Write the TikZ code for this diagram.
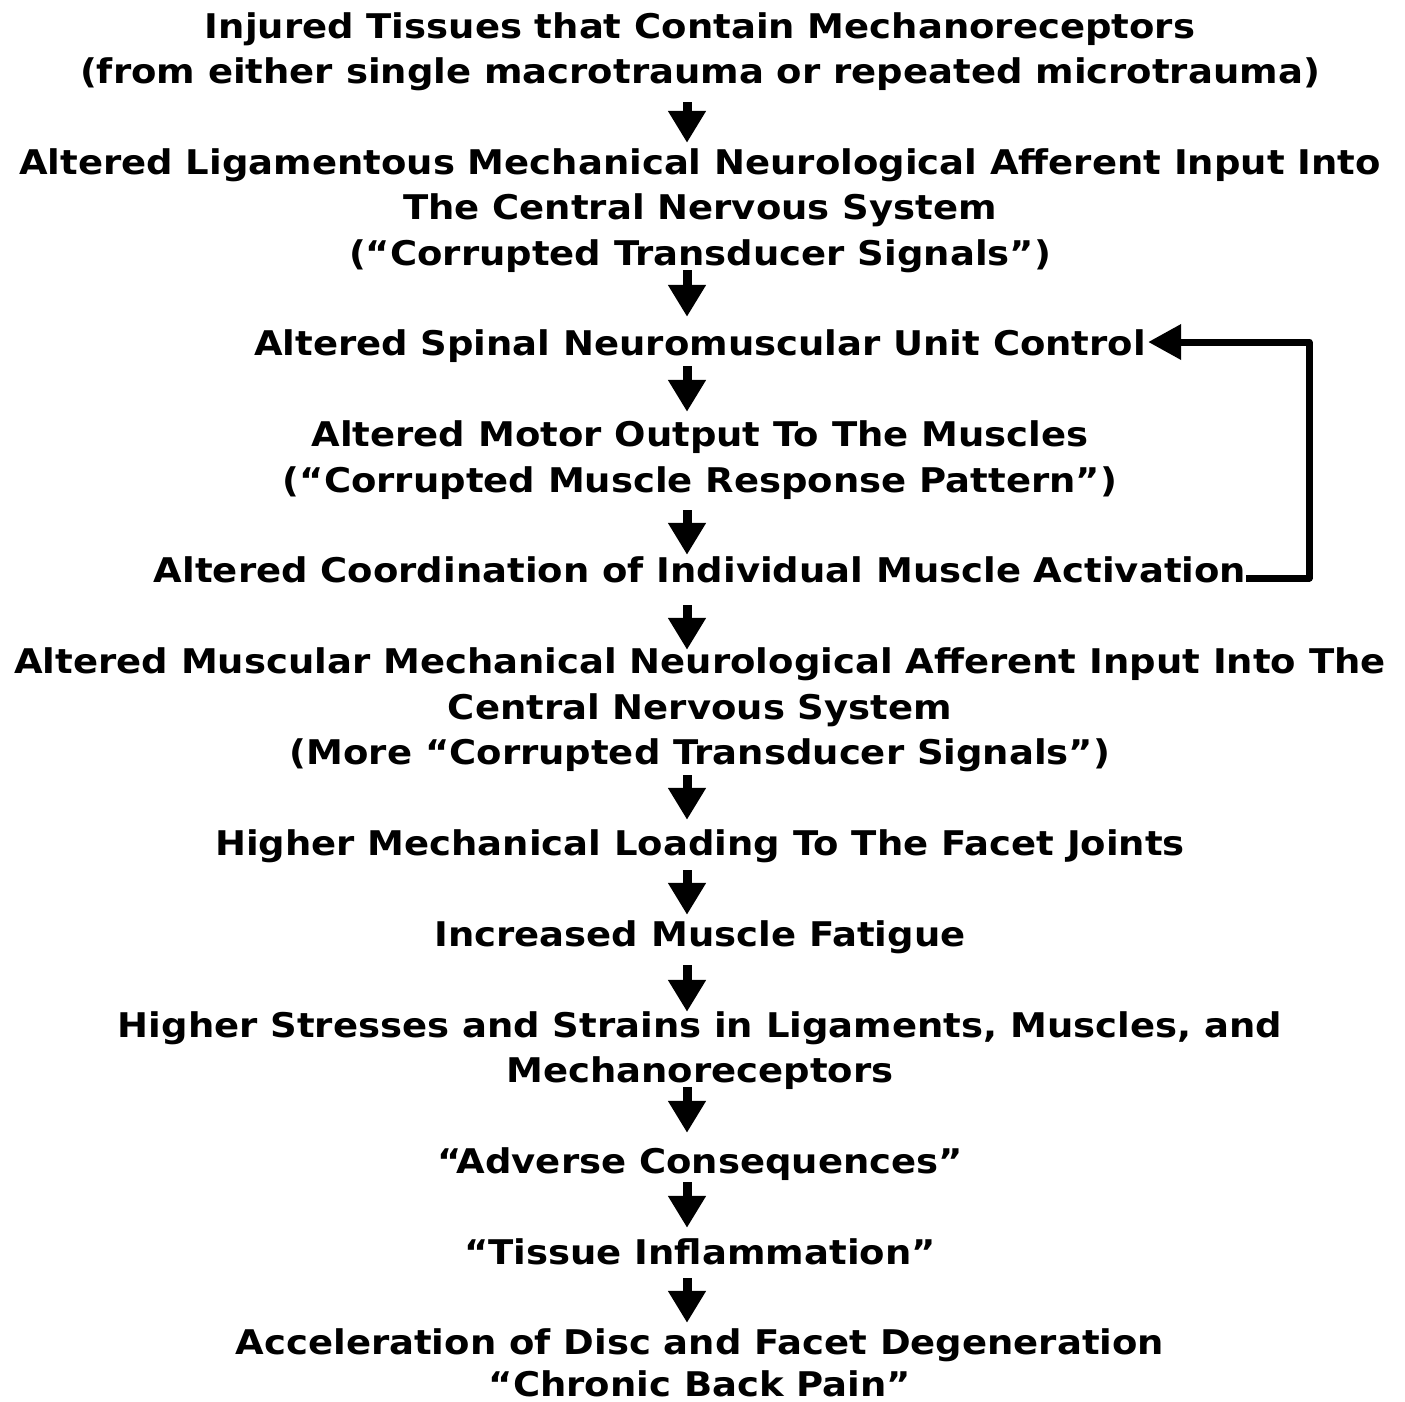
\documentclass[tikz,border=0pt]{standalone}
\usepackage{fontspec}
\setmainfont{DejaVu Sans}[FakeStretch=1.088]
\usetikzlibrary{arrows.meta}
\begin{document}
\begin{tikzpicture}[x=1pt,y=-1pt,
  txt/.style={font=\fontsize{34}{40}\selectfont\bfseries, inner sep=0pt, text height=25pt, text depth=7pt, anchor=base},
  arr/.style={line width=9pt, -{Triangle[width=36pt,length=32pt]}},
  fb/.style={line width=7pt, line join=round, -{Triangle[width=34pt,length=33pt]}}]
\useasboundingbox (0,0) rectangle (1405,1401);
\coordinate (ax) at (687,0);
\coordinate (fbc) at (1309,342);
\node[txt] (l0) at (700,38.0) {Injured Tissues that Contain Mechanoreceptors};
\node[txt] (l1) at (700,83.4) {(from either single macrotrauma or repeated microtrauma)};
\node[txt] (l3) at (700,174.2) {Altered Ligamentous Mechanical Neurological Afferent Input Into};
\node[txt] (l4) at (700,219.6) {The Central Nervous System};
\node[txt] (l5) at (700,265.1) {(“Corrupted Transducer Signals”)};
\node[txt] (l7) at (700,355.9) {Altered Spinal Neuromuscular Unit Control};
\node[txt] (l9) at (700,446.7) {Altered Motor Output To The Muscles};
\node[txt] (l10) at (700,492.1) {(“Corrupted Muscle Response Pattern”)};
\node[txt] (l12) at (700,582.9) {Altered Coordination of Individual Muscle Activation};
\node[txt] (l14) at (700,673.7) {Altered Muscular Mechanical Neurological Afferent Input Into The};
\node[txt] (l15) at (700,719.1) {Central Nervous System};
\node[txt] (l16) at (700,764.6) {(More “Corrupted Transducer Signals”)};
\node[txt] (l18) at (700,855.4) {Higher Mechanical Loading To The Facet Joints};
\node[txt] (l20) at (700,946.2) {Increased Muscle Fatigue};
\node[txt] (l22) at (700,1037.0) {Higher Stresses and Strains in Ligaments, Muscles, and};
\node[txt] (l23) at (700,1082.4) {Mechanoreceptors};
\node[txt] (l25) at (700,1173.3) {“Adverse Consequences”};
\node[txt] (l27) at (700,1264.1) {“Tissue Inflammation”};
\node[txt] (l29) at (700,1354.9) {Acceleration of Disc and Facet Degeneration};
\node[txt, text depth=0pt] (l30) at (700,1396.0) {“Chronic Back Pain”};
\draw[arr, shorten <=11.6pt, shorten >=6.2pt] (l1.south -| ax) -- (l3.north -| ax);
\draw[arr, shorten <=-2.1pt, shorten >=13.9pt] (l5.south -| ax) -- (l7.north -| ax);
\draw[arr, shorten <=3.1pt, shorten >=9.7pt] (l7.south -| ax) -- (l9.north -| ax);
\draw[arr, shorten <=10.9pt, shorten >=2.9pt] (l10.south -| ax) -- (l12.north -| ax);
\draw[arr, shorten <=15.1pt, shorten >=-1.3pt] (l12.south -| ax) -- (l14.north -| ax);
\draw[arr, shorten <=3.4pt, shorten >=10.4pt] (l16.south -| ax) -- (l18.north -| ax);
\draw[arr, shorten <=7.6pt, shorten >=6.2pt] (l18.south -| ax) -- (l20.north -| ax);
\draw[arr, shorten <=11.8pt, shorten >=0pt] (l20.south -| ax) -- (l22.north -| ax);
\draw[arr, shorten <=-2.4pt, shorten >=15.3pt] (l23.south -| ax) -- (l25.north -| ax);
\draw[arr, shorten <=1.7pt, shorten >=11.1pt] (l25.south -| ax) -- (l27.north -| ax);
\draw[arr, shorten <=6.9pt, shorten >=6.9pt] (l27.south -| ax) -- (l29.north -| ax);
\draw[fb, shorten >=2pt] ([yshift=4.9pt]l12.base east) -| (fbc) -- (fbc -| l7.east);
\end{tikzpicture}
\end{document}
